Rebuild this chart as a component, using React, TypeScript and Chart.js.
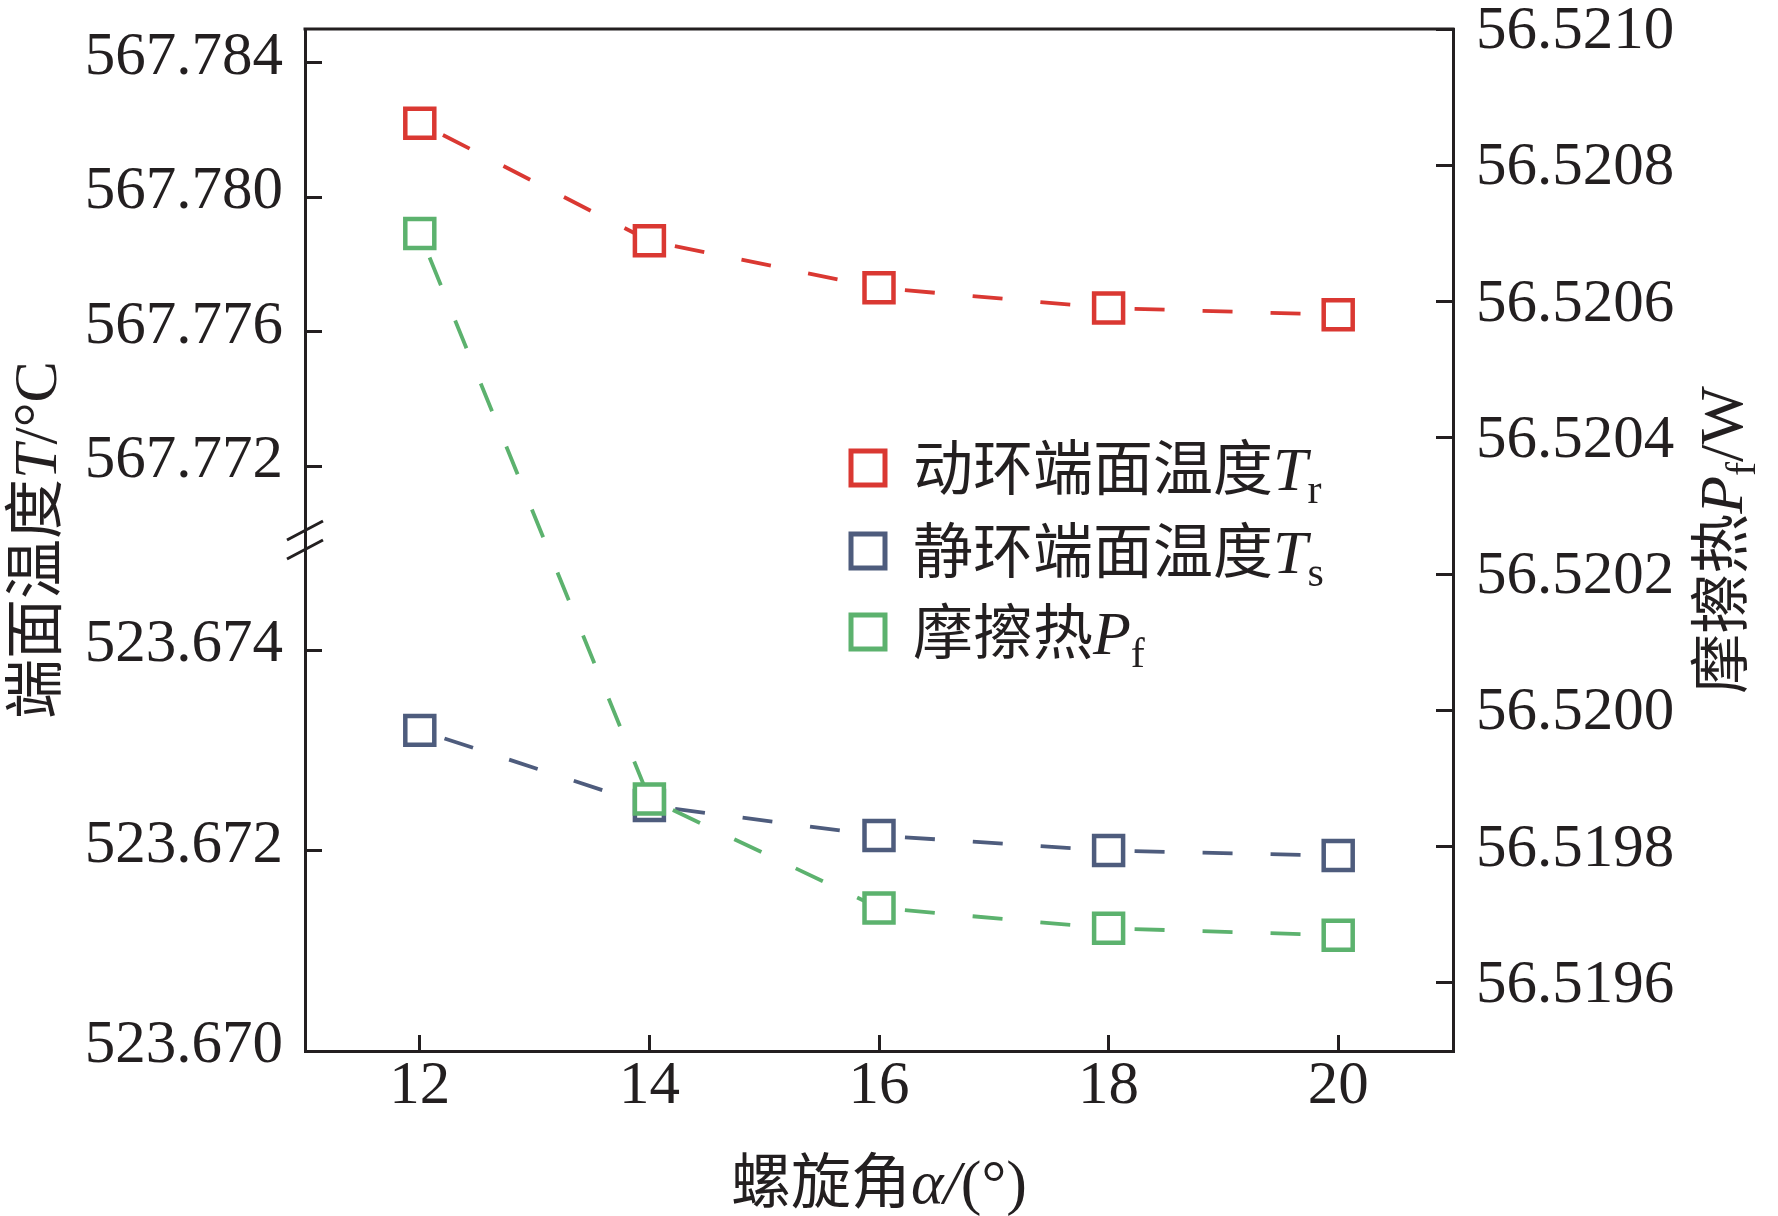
import React, { useEffect, useRef } from 'react';
import { Chart, registerables } from 'chart.js';

Chart.register(...registerables);

// ---------- data ----------
const helixAngles = [12, 14, 16, 18, 20];
const rotatingRingTemp = [567.7822, 567.7787, 567.7773, 567.7767, 567.7765];
const stationaryRingTemp = [523.6732, 523.67245, 523.67215, 523.672, 523.67195];
const frictionHeat = [56.5207, 56.51987, 56.51971, 56.51968, 56.51967];

const xTicks = [12, 14, 16, 18, 20];
const upperTicks = [567.772, 567.776, 567.78, 567.784];
const lowerTicks = [523.67, 523.672, 523.674];
const rightTicks = [56.5196, 56.5198, 56.52, 56.5202, 56.5204, 56.5206, 56.5208, 56.521];

const seriesColors = ['#da3832', '#4e5c7d', '#5cb26e'];

type Seg = { t: string; k: 'cjk' | 'it' | 'rm' | 'sub' };
const legendItems: Seg[][] = [
  [{ t: '动环端面温度', k: 'cjk' }, { t: 'T', k: 'it' }, { t: 'r', k: 'sub' }],
  [{ t: '静环端面温度', k: 'cjk' }, { t: 'T', k: 'it' }, { t: 's', k: 'sub' }],
  [{ t: '摩擦热', k: 'cjk' }, { t: 'P', k: 'it' }, { t: 'f', k: 'sub' }],
];
const leftTitle: Seg[] = [{ t: '端面温度', k: 'cjk' }, { t: 'T', k: 'it' }, { t: '/°C', k: 'rm' }];
const rightTitle: Seg[] = [{ t: '摩擦热', k: 'cjk' }, { t: 'P', k: 'it' }, { t: 'f', k: 'sub' }, { t: '/W', k: 'rm' }];
const xTitle: Seg[] = [{ t: '螺旋角', k: 'cjk' }, { t: 'α/', k: 'it' }, { t: '(°)', k: 'rm' }];

const INK = '#231f20';
const SERIF = '"Liberation Serif", "Times New Roman", serif';
const CJK = '"Noto Sans CJK SC", "Noto Sans CJK JP", sans-serif';
const FONTS: Record<string, string> = {
  cjk: `60px ${CJK}`,
  it: `italic 62px ${SERIF}`,
  rm: `62px ${SERIF}`,
  sub: `42px ${SERIF}`,
};

function drawRich(ctx: CanvasRenderingContext2D, segs: Seg[], x: number, y: number, align: 'left' | 'center') {
  const widths = segs.map((s) => {
    ctx.font = FONTS[s.k];
    return ctx.measureText(s.t).width;
  });
  const total = widths.reduce((a, b) => a + b, 0);
  let cx = align === 'center' ? x - total / 2 : x;
  ctx.textAlign = 'left';
  ctx.textBaseline = 'alphabetic';
  ctx.fillStyle = INK;
  segs.forEach((s, i) => {
    ctx.font = FONTS[s.k];
    ctx.fillText(s.t, cx, y + (s.k === 'sub' ? 13 : 0));
    cx += widths[i];
  });
}

const decorPlugin = {
  id: 'decor',
  beforeDraw(chart: any) {
    const ctx = chart.ctx as CanvasRenderingContext2D;
    ctx.save();
    ctx.fillStyle = '#ffffff';
    ctx.fillRect(0, 0, chart.width, chart.height);
    ctx.restore();
  },
  afterDraw(chart: any) {
    const ctx = chart.ctx as CanvasRenderingContext2D;
    const area = chart.chartArea;
    ctx.save();
    // top frame line
    ctx.strokeStyle = INK;
    ctx.lineWidth = 3;
    ctx.beginPath();
    ctx.moveTo(area.left - 1.5, area.top);
    ctx.lineTo(area.right + 1.5, area.top);
    ctx.stroke();

    // axis break marks
    const y0 = chart.scales.yUpper.bottom;
    const xa = area.left;
    ctx.beginPath();
    ctx.moveTo(xa - 18, y0);
    ctx.lineTo(xa + 18, y0 - 19);
    ctx.moveTo(xa - 18, y0 + 19);
    ctx.lineTo(xa + 18, y0);
    ctx.stroke();

    // axis titles
    const midY = (area.top + area.bottom) / 2;
    ctx.save();
    ctx.translate(34, midY);
    ctx.rotate(-Math.PI / 2);
    drawRich(ctx, leftTitle, 0, 22, 'center');
    ctx.restore();

    ctx.save();
    ctx.translate(1720, midY);
    ctx.rotate(-Math.PI / 2);
    drawRich(ctx, rightTitle, 0, 22, 'center');
    ctx.restore();

    drawRich(ctx, xTitle, (area.left + area.right) / 2, 1203, 'center');

    // legend
    const rows = [468, 551, 632];
    legendItems.forEach((segs, i) => {
      ctx.strokeStyle = seriesColors[i];
      ctx.lineWidth = 5;
      ctx.fillStyle = '#ffffff';
      ctx.fillRect(868 - 17, rows[i] - 17, 34, 34);
      ctx.strokeRect(868 - 17, rows[i] - 17, 34, 34);
      drawRich(ctx, segs, 913, rows[i] + 22, 'left');
    });
    ctx.restore();
  },
};

const tickFont = { family: SERIF, size: 61 };

function yScaleBase(position: 'left' | 'right') {
  return {
    type: 'linear' as const,
    position,
    grid: { drawOnChartArea: false, drawTicks: true, tickLength: -17, lineWidth: 3, color: INK },
    border: { display: true, width: 3, color: INK },
    ticks: { font: tickFont, color: INK, autoSkip: false, padding: 39 },
  };
}

function fixY(width: number) {
  return (s: any) => {
    s.width = width;
    s.paddingTop = 0;
    s.paddingBottom = 0;
  };
}

export default function App() {
  const ref = useRef<HTMLCanvasElement>(null);

  useEffect(() => {
    if (!ref.current) return;
    const mk = (arr: number[]) => helixAngles.map((x, i) => ({ x, y: arr[i] }));
    const lineStyle = (color: string) => ({
      borderColor: color,
      borderWidth: 3.8,
      borderDash: [30, 38],
      pointStyle: 'rect' as const,
      pointRadius: 20.5,
      pointHoverRadius: 20.5,
      pointBorderWidth: 4.5,
      pointBorderColor: color,
      pointBackgroundColor: '#ffffff',
      tension: 0,
      fill: false,
      segment: {
        borderDashOffset: (c: any) => 42 + c.p0DataIndex * 68,
      },
    });

    const chart = new Chart(ref.current, {
      type: 'line',
      data: {
        datasets: [
          { label: 'Tr', data: mk(rotatingRingTemp), yAxisID: 'yUpper', order: 2, ...lineStyle(seriesColors[0]) },
          { label: 'Ts', data: mk(stationaryRingTemp), yAxisID: 'yLower', order: 3, ...lineStyle(seriesColors[1]) },
          { label: 'Pf', data: mk(frictionHeat), yAxisID: 'yRight', order: 1, ...lineStyle(seriesColors[2]) },
        ] as any,
      },
      options: {
        animation: false,
        responsive: false,
        maintainAspectRatio: false,
        devicePixelRatio: 1,
        layout: { padding: { top: 29, left: 0, right: 0, bottom: 0 } },
        plugins: { legend: { display: false }, tooltip: { enabled: false }, title: { display: false } },
        events: [],
        scales: {
          x: {
            type: 'linear',
            position: 'bottom',
            min: 11,
            max: 21,
            grid: { drawOnChartArea: false, drawTicks: true, tickLength: -16, lineWidth: 3, color: INK },
            border: { display: true, width: 3, color: INK },
            ticks: { font: tickFont, color: INK, autoSkip: false, maxRotation: 0, padding: 15 },
            afterBuildTicks: (s: any) => {
              s.ticks = xTicks.map((v) => ({ value: v }));
            },
            afterFit: (s: any) => {
              s.height = 165;
              s.paddingLeft = 0;
              s.paddingRight = 0;
            },
          },
          yLower: {
            ...yScaleBase('left'),
            stack: 'left',
            stackWeight: 1,
            weight: 0,
            min: 523.67,
            max: 523.6751,
            ticks: { ...yScaleBase('left').ticks, labelOffset: -5, callback: (v: any) => Number(v).toFixed(3) },
            afterBuildTicks: (s: any) => {
              s.ticks = lowerTicks.map((v) => ({ value: v }));
            },
            afterFit: fixY(305),
          },
          yUpper: {
            ...yScaleBase('left'),
            stack: 'left',
            stackWeight: 1,
            weight: 1,
            min: 567.7698,
            max: 567.785,
            ticks: { ...yScaleBase('left').ticks, labelOffset: -5, callback: (v: any) => Number(v).toFixed(3) },
            afterBuildTicks: (s: any) => {
              s.ticks = upperTicks.map((v) => ({ value: v }));
            },
            afterFit: fixY(305),
          },
          yRight: {
            ...yScaleBase('right'),
            min: 56.5195,
            max: 56.521,
            ticks: { ...yScaleBase('right').ticks, padding: 40, labelOffset: 3, callback: (v: any) => Number(v).toFixed(4) },
            afterBuildTicks: (s: any) => {
              s.ticks = rightTicks.map((v) => ({ value: v }));
            },
            afterFit: fixY(325),
          },
        } as any,
      },
      plugins: [decorPlugin],
    });
    return () => chart.destroy();
  }, []);

  return (
    <div style={{ position: 'fixed', left: 0, top: 0, width: 1778, height: 1216, background: '#ffffff' }}>
      <canvas ref={ref} width={1778} height={1216} style={{ width: 1778, height: 1216, display: 'block' }} />
    </div>
  );
}
